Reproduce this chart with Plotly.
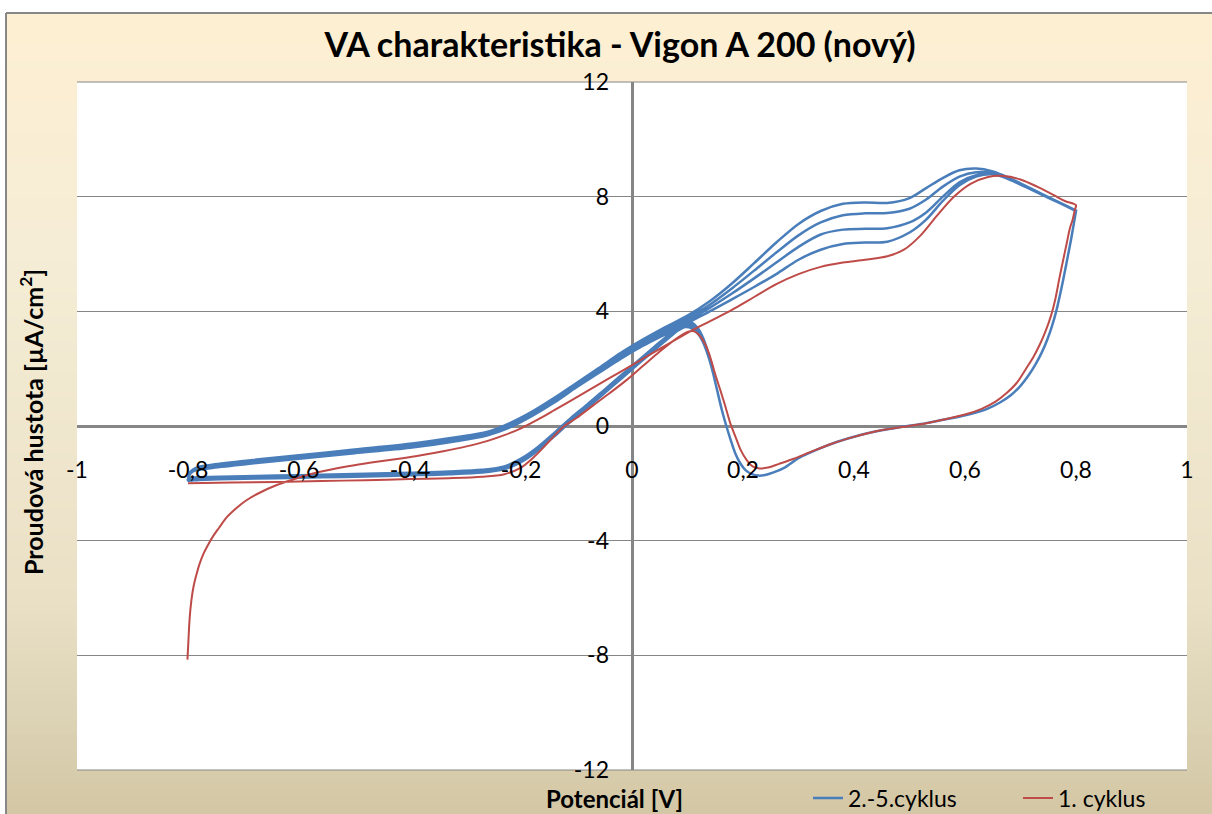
import plotly.graph_objects as go

# ---------------- data ----------------
x_tickvals = [-1, -0.8, -0.6, -0.4, -0.2, 0, 0.2, 0.4, 0.6, 0.8, 1]
x_ticktext = ["-1", "-0,8", "-0,6", "-0,4", "-0,2", "0", "0,2", "0,4", "0,6", "0,8", "1"]
y_tickvals = [-12, -8, -4, 0, 4, 8, 12]
y_ticktext = ["-12", "-8", "-4", "0", "4", "8", "12"]

# 1st cycle - forward scan
red_fwd_x = [-0.801, -0.799, -0.797, -0.794, -0.790, -0.785, -0.779, -0.772, -0.764, -0.755,
             -0.744, -0.730, -0.712, -0.694, -0.670, -0.640, -0.610, -0.580, -0.540, -0.500,
             -0.460, -0.420, -0.380, -0.340, -0.300, -0.260, -0.230, -0.200, -0.170, -0.140,
             -0.100, -0.060, -0.020, 0.020, 0.060, 0.100, 0.140, 0.180, 0.220, 0.260,
             0.300, 0.340, 0.380, 0.420, 0.460, 0.490, 0.520, 0.550, 0.580, 0.610,
             0.640, 0.670, 0.700, 0.730, 0.760, 0.780, 0.800]
red_fwd_y = [-8.15, -7.40, -6.70, -6.10, -5.60, -5.20, -4.80, -4.45, -4.15, -3.85,
             -3.55, -3.18, -2.85, -2.58, -2.32, -2.06, -1.86, -1.68, -1.51, -1.37,
             -1.25, -1.14, -1.02, -0.88, -0.72, -0.52, -0.32, -0.08, 0.22, 0.55,
             1.00, 1.45, 1.90, 2.35, 2.80, 3.25, 3.65, 4.05, 4.50, 4.95,
             5.30, 5.55, 5.70, 5.80, 5.92, 6.15, 6.65, 7.35, 8.00, 8.45,
             8.68, 8.72, 8.60, 8.35, 8.05, 7.85, 7.70]
# 1st cycle - reverse scan
red_rev_x = [0.798, 0.794, 0.789, 0.783, 0.777, 0.770, 0.763, 0.755, 0.745, 0.735,
             0.723, 0.710, 0.693, 0.675, 0.655, 0.630, 0.600, 0.560, 0.520, 0.480,
             0.440, 0.400, 0.360, 0.320, 0.290, 0.265, 0.245, 0.230, 0.218, 0.207,
             0.196, 0.186, 0.177, 0.168, 0.159, 0.150, 0.141, 0.132, 0.122, 0.112,
             0.100, 0.080, 0.050, 0.020, -0.010, -0.040, -0.070, -0.100, -0.125, -0.150,
             -0.175, -0.200, -0.230, -0.270, -0.330, -0.400, -0.480, -0.560, -0.640, -0.720,
             -0.800]
red_rev_y = [7.55, 7.20, 6.90, 6.35, 5.80, 5.15, 4.45, 3.85, 3.30, 2.85,
             2.40, 2.00, 1.50, 1.15, 0.85, 0.60, 0.40, 0.22, 0.06, -0.05,
             -0.18, -0.38, -0.62, -0.92, -1.15, -1.32, -1.45, -1.48, -1.42, -1.20,
             -0.84, -0.35, 0.10, 0.70, 1.26, 1.80, 2.40, 2.85, 3.15, 3.30,
             3.28, 3.05, 2.60, 2.10, 1.60, 1.15, 0.72, 0.28, -0.05, -0.55,
             -1.05, -1.45, -1.68, -1.77, -1.82, -1.85, -1.89, -1.92, -1.95, -1.97,
             -2.00]

# cycles 2-5 - forward scan (shared potentials)
blue_fwd_x = [-0.800, -0.795, -0.785, -0.760, -0.700, -0.600, -0.500, -0.400, -0.320, -0.260,
              -0.220, -0.180, -0.140, -0.100, -0.060, -0.020, 0.020, 0.060, 0.100, 0.140,
              0.180, 0.220, 0.260, 0.300, 0.340, 0.380, 0.420, 0.460, 0.500, 0.530,
              0.560, 0.590, 0.620, 0.650, 0.680, 0.710, 0.740, 0.770, 0.800]
c2_fwd_y = [-1.84, -1.64, -1.54, -1.47, -1.34, -1.14, -0.95, -0.76, -0.54, -0.32,
            -0.05, 0.35, 0.82, 1.35, 1.85, 2.35, 2.80, 3.20, 3.60, 4.00,
            4.42, 4.85, 5.30, 5.80, 6.15, 6.35, 6.40, 6.43, 6.75, 7.20,
            7.85, 8.40, 8.70, 8.78, 8.60, 8.33, 8.05, 7.78, 7.50]
c3_fwd_y = [-1.84, -1.62, -1.51, -1.43, -1.30, -1.10, -0.90, -0.70, -0.48, -0.28,
            0.00, 0.40, 0.87, 1.40, 1.91, 2.42, 2.87, 3.28, 3.68, 4.12,
            4.62, 5.15, 5.70, 6.25, 6.68, 6.85, 6.88, 6.90, 7.10, 7.45,
            8.00, 8.50, 8.75, 8.80, 8.60, 8.33, 8.05, 7.78, 7.50]
c4_fwd_y = [-1.84, -1.60, -1.48, -1.40, -1.26, -1.06, -0.86, -0.66, -0.44, -0.24,
            0.05, 0.45, 0.93, 1.45, 1.97, 2.49, 2.95, 3.37, 3.77, 4.23,
            4.80, 5.42, 6.05, 6.65, 7.10, 7.35, 7.42, 7.43, 7.58, 7.90,
            8.35, 8.70, 8.85, 8.82, 8.62, 8.35, 8.06, 7.78, 7.50]
c5_fwd_y = [-1.84, -1.58, -1.45, -1.36, -1.22, -1.02, -0.82, -0.62, -0.40, -0.20,
            0.10, 0.50, 0.98, 1.50, 2.02, 2.55, 3.02, 3.45, 3.85, 4.35,
            4.97, 5.68, 6.40, 7.05, 7.50, 7.75, 7.80, 7.78, 7.95, 8.30,
            8.65, 8.92, 8.98, 8.88, 8.65, 8.37, 8.08, 7.80, 7.52]

# cycles 2-5 - reverse scan (shared potentials)
blue_rev_x = [0.800, 0.796, 0.791, 0.785, 0.779, 0.772, 0.765, 0.757, 0.748, 0.738,
              0.727, 0.714, 0.700, 0.683, 0.663, 0.640, 0.610, 0.570, 0.530, 0.490,
              0.450, 0.410, 0.370, 0.330, 0.300, 0.275, 0.255, 0.240, 0.228, 0.216,
              0.205, 0.195, 0.186, 0.178, 0.170, 0.162, 0.154, 0.146, 0.138, 0.129,
              0.119, 0.108, 0.096, 0.083, 0.065, 0.040, 0.010, -0.020, -0.050, -0.080,
              -0.110, -0.140, -0.170, -0.200, -0.230, -0.270, -0.330, -0.400, -0.480, -0.560,
              -0.640, -0.720, -0.780, -0.800]
c2_rev_y = [7.50, 7.05, 6.50, 5.90, 5.30, 4.65, 4.05, 3.50, 3.00, 2.55,
            2.15, 1.75, 1.40, 1.08, 0.82, 0.60, 0.42, 0.25, 0.10, -0.02,
            -0.15, -0.32, -0.55, -0.85, -1.12, -1.45, -1.62, -1.71, -1.73, -1.68,
            -1.55, -1.30, -0.95, -0.50, 0.00, 0.55, 1.20, 1.85, 2.40, 2.88,
            3.22, 3.40, 3.45, 3.33, 3.05, 2.64, 2.14, 1.64, 1.14, 0.64,
            0.16, -0.36, -0.86, -1.26, -1.50, -1.62, -1.68, -1.72, -1.76, -1.79,
            -1.82, -1.85, -1.88, -1.90]
c3_rev_y = [7.50, 7.05, 6.50, 5.90, 5.30, 4.65, 4.05, 3.50, 3.00, 2.55,
            2.15, 1.75, 1.40, 1.08, 0.82, 0.60, 0.42, 0.25, 0.10, -0.02,
            -0.15, -0.32, -0.55, -0.85, -1.12, -1.45, -1.62, -1.71, -1.73, -1.68,
            -1.55, -1.30, -0.95, -0.50, 0.00, 0.55, 1.20, 1.85, 2.43, 2.93,
            3.28, 3.47, 3.52, 3.39, 3.09, 2.68, 2.18, 1.68, 1.18, 0.68,
            0.20, -0.32, -0.82, -1.22, -1.47, -1.59, -1.65, -1.69, -1.73, -1.76,
            -1.79, -1.82, -1.85, -1.87]
c4_rev_y = [7.50, 7.05, 6.50, 5.90, 5.30, 4.65, 4.05, 3.50, 3.00, 2.55,
            2.15, 1.75, 1.40, 1.08, 0.82, 0.60, 0.42, 0.25, 0.10, -0.02,
            -0.15, -0.32, -0.55, -0.85, -1.12, -1.45, -1.62, -1.71, -1.73, -1.68,
            -1.55, -1.30, -0.95, -0.50, 0.00, 0.55, 1.20, 1.85, 2.46, 2.98,
            3.34, 3.54, 3.60, 3.45, 3.13, 2.72, 2.22, 1.72, 1.22, 0.72,
            0.24, -0.28, -0.78, -1.18, -1.44, -1.56, -1.62, -1.66, -1.70, -1.73,
            -1.76, -1.79, -1.82, -1.84]
c5_rev_y = [7.52, 7.05, 6.50, 5.90, 5.30, 4.65, 4.05, 3.50, 3.00, 2.55,
            2.15, 1.75, 1.40, 1.08, 0.82, 0.60, 0.42, 0.25, 0.10, -0.02,
            -0.15, -0.32, -0.55, -0.85, -1.12, -1.45, -1.62, -1.71, -1.73, -1.68,
            -1.55, -1.30, -0.95, -0.50, 0.00, 0.55, 1.20, 1.85, 2.49, 3.03,
            3.40, 3.61, 3.68, 3.51, 3.17, 2.76, 2.26, 1.76, 1.26, 0.76,
            0.28, -0.24, -0.74, -1.14, -1.41, -1.53, -1.59, -1.63, -1.67, -1.70,
            -1.73, -1.76, -1.79, -1.81]

# ---------------- assemble series ----------------
blue_x, blue_y = [], []
for fy, ry in [(c2_fwd_y, c2_rev_y), (c3_fwd_y, c3_rev_y), (c4_fwd_y, c4_rev_y), (c5_fwd_y, c5_rev_y)]:
    blue_x += blue_fwd_x + blue_rev_x
    blue_y += fy + ry
red_x = red_fwd_x + red_rev_x
red_y = red_fwd_y + red_rev_y

# ---------------- geometry helpers (pixels -> paper) ----------------
W, H = 1212, 814
L, R, T, B = 77, 1187, 82, 770


def px(xp):
    return (xp - L) / (R - L)


def py(yp):
    return (B - yp) / (B - T)


FONT = "Lato"

fig = go.Figure()
fig.add_trace(go.Scatter(x=blue_x, y=blue_y, mode="lines", name="2.-5.cyklus",
                         line=dict(color="#4A7EBB", width=2.5, shape="spline", smoothing=0.9)))
fig.add_trace(go.Scatter(x=red_x, y=red_y, mode="lines", name="1. cyklus",
                         line=dict(color="#BE4B48", width=2.0, shape="spline", smoothing=0.9)))

# background gradient of the chart area (cream -> light beige -> tan)
grad_stops = [(13, (253, 239, 210)), (250, (246, 237, 214)), (600, (233, 224, 198)),
              (700, (222, 213, 184)), (814, (211, 198, 164))]


def grad_color(yp):
    for (ya, ca), (yb, cb) in zip(grad_stops[:-1], grad_stops[1:]):
        if yp <= yb:
            f = (yp - ya) / (yb - ya)
            return tuple(round(ca[k] + (cb[k] - ca[k]) * f) for k in range(3))
    return grad_stops[-1][1]


shapes = []
n = 100
y0, y1 = 13, 814
for i in range(n):
    a = y0 + (y1 - y0) * i / n
    b = y0 + (y1 - y0) * (i + 1) / n
    c = grad_color((a + b) / 2)
    shapes.append(dict(type="rect", xref="paper", yref="paper", layer="below",
                       x0=px(6), x1=px(W + 5), y0=py(b + 0.6), y1=py(a),
                       fillcolor="rgb(%d,%d,%d)" % c, line=dict(width=0)))
# white plot area
shapes.append(dict(type="rect", xref="paper", yref="paper", layer="below",
                   x0=0, x1=1, y0=0, y1=1, fillcolor="white", line=dict(width=0)))
# top / bottom border lines of plot area
for yy in (0, 1):
    shapes.append(dict(type="line", xref="paper", yref="paper", layer="below",
                       x0=0, x1=1, y0=yy, y1=yy, line=dict(color="#868686", width=1)))
# outer chart frame (top and left edges visible)
shapes.append(dict(type="line", xref="paper", yref="paper", layer="below",
                   x0=px(6), x1=px(W + 5), y0=py(13), y1=py(13),
                   line=dict(color="#878787", width=2)))
shapes.append(dict(type="line", xref="paper", yref="paper", layer="below",
                   x0=px(6), x1=px(6), y0=py(13), y1=py(H + 5),
                   line=dict(color="#878787", width=2)))

fig.update_layout(
    width=W, height=H, autosize=False,
    margin=dict(l=L, r=W - R, t=T, b=H - B, pad=0, autoexpand=False),
    paper_bgcolor="white", plot_bgcolor="white",
    shapes=shapes,
    title=dict(text="VA charakteristika - Vigon A 200 (nový)", xref="container", yref="container",
               x=620 / W, y=1 - 45 / H, xanchor="center", yanchor="middle",
               font=dict(family=FONT, size=34, color="black", weight="bold")),
    showlegend=True,
    legend=dict(orientation="h", xref="container", yref="container",
                x=808 / W, y=1 - 798 / H, xanchor="left", yanchor="middle",
                entrywidth=165, entrywidthmode="pixels",
                bgcolor="rgba(0,0,0,0)", font=dict(family=FONT, size=23, color="black")),
    xaxis=dict(range=[-1, 1], tickvals=x_tickvals, ticktext=x_ticktext,
               showgrid=False, zeroline=True, zerolinecolor="#868686", zerolinewidth=3,
               showline=False, ticks="", anchor="free", position=py(454),
               tickfont=dict(family=FONT, size=23, color="black"), fixedrange=True),
    yaxis=dict(range=[-12, 12], tickvals=y_tickvals, ticktext=y_ticktext,
               showgrid=True, gridcolor="#868686", gridwidth=1,
               zeroline=True, zerolinecolor="#868686", zerolinewidth=3,
               showline=False, ticks="", anchor="free", position=px(609),
               tickfont=dict(family=FONT, size=23, color="black"), fixedrange=True),
    annotations=[
        dict(text="Potenciál [V]", xref="paper", yref="paper", x=px(614), y=py(798),
             xanchor="center", yanchor="middle", showarrow=False,
             font=dict(family=FONT, size=24, color="black", weight="bold")),
        dict(text="Proudová hustota [µA/cm<sup>2</sup>]", xref="paper", yref="paper",
             x=px(31), y=py(422), xanchor="center", yanchor="middle", showarrow=False,
             textangle=-90, font=dict(family=FONT, size=25, color="black", weight="bold")),
    ],
)

fig.write_html("out.html", config={"displayModeBar": False},
               post_script="document.body.style.margin='0px';"
                           "document.body.style.overflow='hidden';"
                           "document.documentElement.style.overflow='hidden';")
